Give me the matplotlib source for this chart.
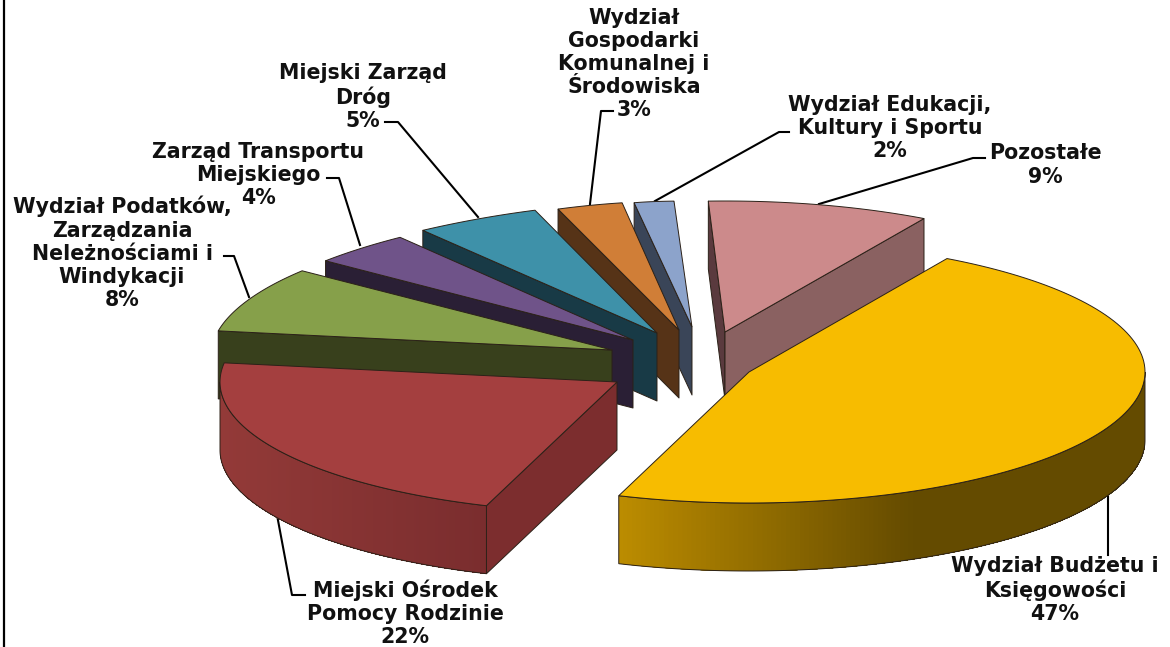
#!/usr/bin/env python3
"""Exploded 3D pie of budget shares, drawn as plain polygons in pixel space."""
import numpy as np
import matplotlib
matplotlib.use("Agg")
import matplotlib.pyplot as plt
from matplotlib.patches import Polygon
from matplotlib.colors import to_rgb

# ─── DATA ───────────────────────────────────────────────────────────────────
LABELS = [
    "Wydział Budżetu i\nKsięgowości",
    "Miejski Ośrodek\nPomocy Rodzinie",
    "Wydział Podatków,\nZarządzania\nNeleżnościami i\nWindykacji",
    "Zarząd Transportu\nMiejskiego",
    "Miejski Zarząd\nDróg",
    "Wydział\nGospodarki\nKomunalnej i\nŚrodowiska",
    "Wydział Edukacji,\nKultury i Sportu",
    "Pozostałe",
]
VALUES = [47, 22, 8, 4, 5, 3, 2, 9]

# ─── STYLE / LAYOUT ─────────────────────────────────────────────────────────
TOP_COLORS  = ["#F7BC00", "#A43F3F", "#86A04A", "#6F5389", "#3E91A9", "#D07E37", "#8CA3CB", "#CC8A8B"]
WALL_COLORS = ["#6B5000", "#7C2D2E", "#38401C", "#2A1F35", "#183A46", "#563317", "#3A4558", "#8A6161"]
# pixel position of each slice's tip; horizontal radius at start/end of the arc (back slices are foreshortened)
TIPS  = [(749, 372), (617, 382), (612, 350), (633, 340), (657, 333), (679, 330), (692, 327), (725, 332)]
RX    = [(396, 396), (397, 397), (398, 389), (386, 375), (377, 350), (347, 341), (347, 430), (398, 398)]
RY    = [131, 131, 131, 131, 131, 129, 126, 131]
DEPTH = 68
START_ANGLE = 60
DRAW_ORDER = [7, 6, 5, 4, 3, 2, 1, 0]
SLIVER_COLOR = "#5A3A3E"
EDGE = "#2b2118"
LW = 0.7

# gradient on the curved rim: colour at left end -> colour at right end, stop position
RIM_GRADIENT = {0: ("#BC8C00", "#644B00", 0.56), 1: ("#933A38", "#7A2D2E", 1.0)}

LABEL_POS = [(1055, 590), (405, 613), (122, 253), (258, 175), (363, 97), (634, 64), (890, 128), (1045, 165)]
LEADERS = [
    [(1108, 490), (1108, 555)],
    [(277, 515), (292, 595), (305, 595)],
    [(224, 256), (234, 256), (249, 297)],
    [(327, 178), (339, 178), (360, 245)],
    [(385, 122), (398, 122), (478, 217)],
    [(613, 111), (601, 111), (590, 204)],
    [(789, 132), (779, 132), (655, 201)],
    [(985, 158), (973, 158), (819, 204)],
]
FONT = "DejaVu Sans"
FONT_SIZE = 14.8
LINE_SPACING = 1.2


def ell(i, t, t0, t1):
    tx, ty = TIPS[i]
    f = (np.asarray(t) - t0) / (t1 - t0)
    r = RX[i][0] + f * (RX[i][1] - RX[i][0])
    t = np.radians(t)
    return np.column_stack([tx + r * np.cos(t), ty - RY[i] * np.sin(t)])


def mix(c0, c1, f):
    return tuple((1 - f) * a + f * b for a, b in zip(to_rgb(c0), to_rgb(c1)))


def draw_wall(ax, i, p, color):
    tip = np.array(TIPS[i], dtype=float)
    quad = [tip, p, p + (0, DEPTH), tip + (0, DEPTH)]
    ax.add_patch(Polygon(quad, closed=True, fc=color, ec=EDGE, lw=LW, joinstyle="round"))


def draw_slice(ax, i, t0, t1):
    # radial walls, only the ones facing the viewer
    if np.cos(np.radians(t0)) < 0:
        draw_wall(ax, i, ell(i, [t0], t0, t1)[0], SLIVER_COLOR if i == 7 else WALL_COLORS[i])
    if np.cos(np.radians(t1)) > 0:
        draw_wall(ax, i, ell(i, [t1], t0, t1)[0], WALL_COLORS[i])

    # curved rim, front half only; each strip runs to the end of the rim so no seams show
    lo, hi = max(t1, -180), min(t0, 0)
    if hi > lo:
        ts = np.linspace(lo, hi, 161)
        pts = ell(i, ts, t0, t1)
        c0, c1, stop = RIM_GRADIENT[i]
        xmin, xmax = pts[:, 0].min(), pts[:, 0].max()
        for k in range(len(ts) - 1):
            f = min(((pts[k, 0] + pts[k + 1, 0]) / 2 - xmin) / (xmax - xmin) / stop, 1)
            strip = np.vstack([pts[k:], pts[k:][::-1] + (0, DEPTH)])
            ax.add_patch(Polygon(strip, closed=True, fc=mix(c0, c1, f), ec="none"))
        outline = np.vstack([pts, pts[::-1] + (0, DEPTH)])
        ax.add_patch(Polygon(outline, closed=True, fc="none", ec=EDGE, lw=LW))

    # top face
    arc = ell(i, np.linspace(t0, t1, 120), t0, t1)
    ax.add_patch(Polygon(np.vstack([TIPS[i], arc]), closed=True, fc=TOP_COLORS[i], ec=EDGE, lw=LW))


def main():
    fig = plt.figure(figsize=(11.7, 6.47), dpi=100)
    ax = fig.add_axes([0, 0, 1, 1])
    ax.set_xlim(0, 1170)
    ax.set_ylim(647, 0)
    ax.axis("off")

    # frame line along the left edge
    ax.plot([4, 4], [0, 647], color="black", lw=1.6)

    # slice angles run clockwise from START_ANGLE
    spans = np.array(VALUES) / sum(VALUES) * 360
    ends = START_ANGLE - np.cumsum(spans)
    starts = ends + spans

    for line in LEADERS:
        xs, ys = zip(*line)
        ax.plot(xs, ys, color="black", lw=1.5, solid_joinstyle="round", zorder=1)

    for i in DRAW_ORDER:
        draw_slice(ax, i, starts[i], ends[i])

    for lab, val, (x, y) in zip(LABELS, VALUES, LABEL_POS):
        ax.text(x, y, f"{lab}\n{val}%", ha="center", va="center", family=FONT,
                fontweight="bold", fontsize=FONT_SIZE, linespacing=LINE_SPACING, color="#111111", zorder=5)

    fig.savefig("out.png", dpi=100)
    plt.close(fig)


if __name__ == "__main__":
    main()
